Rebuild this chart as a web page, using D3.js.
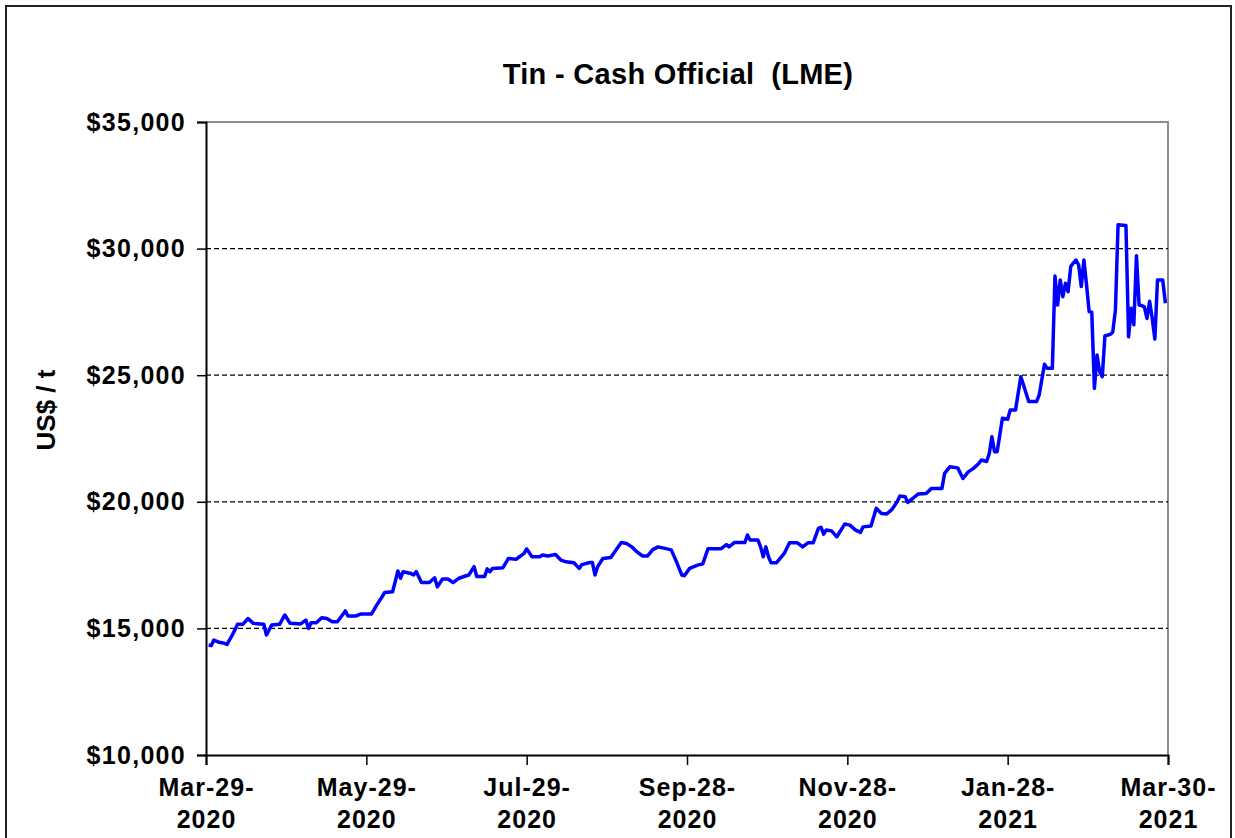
<!DOCTYPE html>
<html>
<head>
<meta charset="utf-8">
<script src="https://cdn.jsdelivr.net/npm/d3@7"></script>
<style>
  body { margin: 0; background: #fff; }
  svg { display: block; }
  text { font-family: "Liberation Sans", Arial, sans-serif; font-weight: bold; fill: #000; }
</style>
</head>
<body>
<div id="chart"></div>
<script>
// Tin cash official price (LME), US$/t
const dates = [
  "2020-03-30","2020-03-31","2020-04-01","2020-04-03","2020-04-05","2020-04-06","2020-04-08","2020-04-09","2020-04-10","2020-04-12",
  "2020-04-14","2020-04-16","2020-04-20","2020-04-21","2020-04-23","2020-04-26","2020-04-28","2020-04-30","2020-05-04","2020-05-06",
  "2020-05-07","2020-05-08","2020-05-10","2020-05-12","2020-05-14","2020-05-16","2020-05-18","2020-05-21","2020-05-22","2020-05-25",
  "2020-05-27","2020-05-31","2020-06-02","2020-06-04","2020-06-05","2020-06-08","2020-06-09","2020-06-10","2020-06-11","2020-06-12",
  "2020-06-15","2020-06-16","2020-06-17","2020-06-19","2020-06-22","2020-06-24","2020-06-25","2020-06-27","2020-06-29","2020-07-01",
  "2020-07-03","2020-07-06","2020-07-07","2020-07-09","2020-07-10","2020-07-13","2020-07-14","2020-07-15","2020-07-16","2020-07-20",
  "2020-07-22","2020-07-25","2020-07-28","2020-07-29","2020-07-31","2020-08-03","2020-08-04","2020-08-06","2020-08-09","2020-08-11",
  "2020-08-13","2020-08-16","2020-08-18","2020-08-19","2020-08-22","2020-08-23","2020-08-24","2020-08-25","2020-08-27","2020-08-30",
  "2020-09-01","2020-09-03","2020-09-05","2020-09-07","2020-09-09","2020-09-11","2020-09-13","2020-09-15","2020-09-17","2020-09-20",
  "2020-09-22","2020-09-24","2020-09-26","2020-09-27","2020-09-29","2020-10-02","2020-10-04","2020-10-06","2020-10-11","2020-10-13",
  "2020-10-14","2020-10-16","2020-10-20","2020-10-21","2020-10-22","2020-10-25","2020-10-26","2020-10-27","2020-10-28","2020-10-29",
  "2020-10-30","2020-11-01","2020-11-04","2020-11-06","2020-11-09","2020-11-11","2020-11-13","2020-11-15","2020-11-17","2020-11-18",
  "2020-11-19","2020-11-20","2020-11-22","2020-11-24","2020-11-27","2020-11-29","2020-12-01","2020-12-03","2020-12-04","2020-12-07",
  "2020-12-09","2020-12-11","2020-12-13","2020-12-15","2020-12-17","2020-12-18","2020-12-20","2020-12-21","2020-12-23","2020-12-25",
  "2020-12-28","2020-12-30","2021-01-03","2021-01-04","2021-01-06","2021-01-09","2021-01-11","2021-01-13","2021-01-15","2021-01-17",
  "2021-01-18","2021-01-20","2021-01-21","2021-01-22","2021-01-23","2021-01-24","2021-01-26","2021-01-28","2021-01-29","2021-01-31",
  "2021-02-02","2021-02-03","2021-02-05","2021-02-08","2021-02-09","2021-02-11","2021-02-12","2021-02-14","2021-02-15","2021-02-16",
  "2021-02-17","2021-02-18","2021-02-19","2021-02-20","2021-02-21","2021-02-22","2021-02-23","2021-02-24","2021-02-25","2021-02-26",
  "2021-02-27","2021-02-28","2021-03-01","2021-03-02","2021-03-03","2021-03-04","2021-03-05","2021-03-06","2021-03-08","2021-03-09",
  "2021-03-10","2021-03-11","2021-03-14","2021-03-15","2021-03-16","2021-03-17","2021-03-18","2021-03-19","2021-03-20","2021-03-21",
  "2021-03-22","2021-03-23","2021-03-24","2021-03-25","2021-03-26","2021-03-28","2021-03-29"
];
const prices = [
  14350,14320,14540,14450,14410,14370,14740,14940,15160,15160,
  15390,15200,15160,14740,15135,15160,15530,15200,15175,15330,
  15000,15220,15220,15420,15390,15260,15260,15690,15490,15490,
  15570,15570,15930,16250,16420,16450,16850,17270,16980,17240,
  17170,17110,17240,16810,16810,17000,16640,16950,16950,16810,
  16970,17080,17110,17440,17050,17050,17350,17240,17370,17400,
  17760,17730,17960,18140,17830,17830,17900,17860,17920,17700,
  17630,17590,17370,17520,17600,17600,17110,17440,17760,17800,
  18100,18390,18350,18220,18020,17860,17860,18110,18220,18150,
  18100,17630,17110,17080,17370,17500,17550,18150,18150,18310,
  18220,18390,18390,18690,18490,18490,18220,17830,18220,17830,
  17590,17590,17960,18380,18380,18220,18380,18380,18950,18990,
  18720,18890,18850,18620,19120,19080,18890,18790,19010,19040,
  19740,19540,19520,19700,20010,20230,20200,19980,20140,20310,
  20330,20530,20530,21120,21380,21340,20920,21180,21320,21510,
  21650,21590,21910,22570,21980,21980,23300,23260,23630,23630,
  24940,24620,23960,23960,24220,25430,25270,25270,28920,27770,
  28760,28100,28630,28300,29290,29430,29550,29350,28500,29550,
  28570,27510,27490,24480,25800,25140,24940,26550,26610,26710,
  27580,30940,30910,26520,27640,26990,29720,27770,27750,27700,
  27240,27920,27240,26430,28760,28760,27840
];
const tickDates = ["2020-03-29","2020-05-29","2020-07-29","2020-09-28","2020-11-28","2021-01-28","2021-03-30"];
const yTicks = [10000, 15000, 20000, 25000, 30000, 35000];
const gridValues = [15000, 20000, 25000, 30000];

const W = 1235, H = 838;
const margin = { left: 206, right: 1168, top: 122, bottom: 755 };
const parse = d3.timeParse("%Y-%m-%d");
const data = dates.map((d, i) => ({ date: parse(d), value: prices[i] }));

const x = d3.scaleTime()
  .domain([parse(tickDates[0]), parse(tickDates[tickDates.length - 1])])
  .range([margin.left, margin.right]);
const y = d3.scaleLinear()
  .domain([10000, 35000])
  .range([margin.bottom, margin.top]);

const svg = d3.select("#chart").append("svg")
  .attr("width", W)
  .attr("height", H);

// outer frame
svg.append("rect")
  .attr("x", 6).attr("y", 6)
  .attr("width", 1225).attr("height", 850)
  .attr("fill", "none")
  .attr("stroke", "#222")
  .attr("stroke-width", 2);

// title (double space kept as in the original)
svg.append("text")
  .attr("x", 678).attr("y", 84)
  .attr("text-anchor", "middle")
  .style("font-size", "29px")
  .style("white-space", "pre")
  .style("letter-spacing", "0.3px")
  .text("Tin - Cash Official  (LME)");

// plot border (top and right, grey)
svg.append("path")
  .attr("d", `M${margin.left},${margin.top}H${margin.right}V${margin.bottom}`)
  .attr("fill", "none")
  .attr("stroke", "#8c8c8c")
  .attr("stroke-width", 2);

// dashed gridlines
svg.append("g")
  .selectAll("line")
  .data(gridValues)
  .join("line")
  .attr("x1", margin.left).attr("x2", margin.right)
  .attr("y1", d => y(d)).attr("y2", d => y(d))
  .attr("stroke", "#000")
  .attr("stroke-width", 1.3)
  .attr("stroke-dasharray", "5,3");

// y axis
const yAxis = svg.append("g")
  .attr("transform", `translate(${margin.left},0)`)
  .call(d3.axisLeft(y).tickValues(yTicks).tickSize(9).tickPadding(11)
    .tickFormat(d => "$" + d3.format(",")(d)));
yAxis.select(".domain").attr("stroke", "#000").attr("stroke-width", 2);
yAxis.selectAll(".tick line").attr("stroke", "#000").attr("stroke-width", 1.5);
yAxis.selectAll(".tick text")
  .style("font-size", "25px")
  .style("letter-spacing", "1.3px")
  .style("font-family", "'Liberation Sans', Arial, sans-serif")
  .attr("fill", "#000");

// x axis
const fmtTop = d3.timeFormat("%b-%d-");
const fmtYear = d3.timeFormat("%Y");
const xAxis = svg.append("g")
  .attr("transform", `translate(0,${margin.bottom})`)
  .call(d3.axisBottom(x).tickValues(tickDates.map(parse)).tickSize(10).tickFormat(""));
xAxis.select(".domain").attr("stroke", "#000").attr("stroke-width", 2);
xAxis.selectAll(".tick line").attr("stroke", "#000").attr("stroke-width", 1.5);
const xt = xAxis.selectAll(".tick text")
  .text(null)
  .attr("y", 0)
  .attr("dy", null)
  .style("font-size", "25px")
  .style("letter-spacing", "1px")
  .style("font-family", "'Liberation Sans', Arial, sans-serif")
  .attr("fill", "#000");
xt.append("tspan").attr("x", 0).attr("y", 41).text(d => fmtTop(d));
xt.append("tspan").attr("x", 0).attr("y", 73).text(d => fmtYear(d));

// y axis title
svg.append("text")
  .attr("transform", "translate(55,410) rotate(-90)")
  .attr("text-anchor", "middle")
  .style("font-size", "26px")
  .text("US$ / t");

// price line
const line = d3.line()
  .x(d => x(d.date))
  .y(d => y(d.value));

svg.append("path")
  .datum(data)
  .attr("fill", "none")
  .attr("stroke", "#0000ff")
  .attr("stroke-width", 3.5)
  .attr("stroke-linejoin", "round")
  .attr("d", line);
</script>
</body>
</html>
